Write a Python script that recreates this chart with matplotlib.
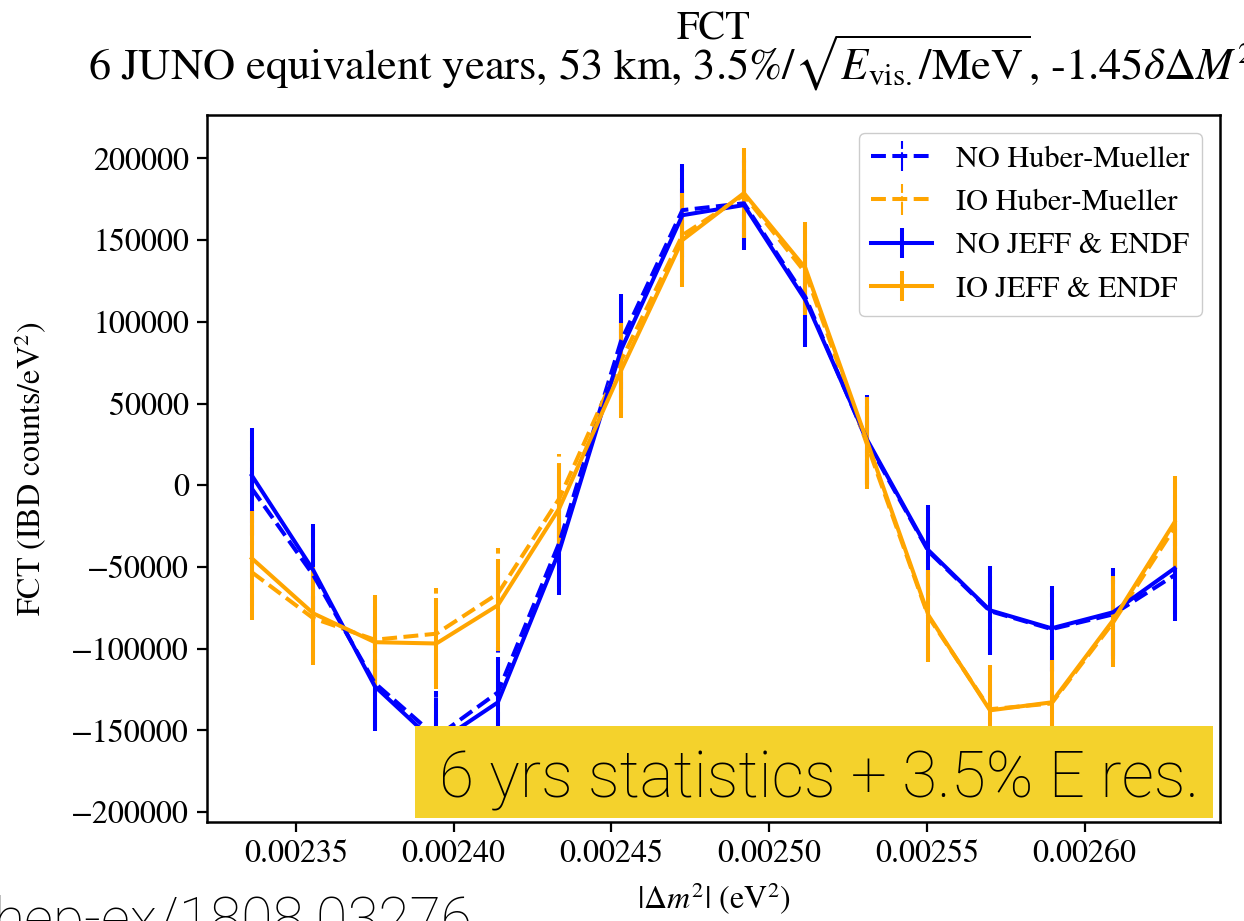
import matplotlib
matplotlib.use("Agg")
import matplotlib.pyplot as plt
from matplotlib.collections import LineCollection
from matplotlib.patches import Rectangle
from matplotlib.ticker import MultipleLocator, FormatStrFormatter

plt.rcParams["font.family"] = ["STIXGeneral", "DejaVu Serif"]
plt.rcParams["mathtext.fontset"] = "stix"

# |dm^2| bin centres (eV^2)
dm2 = [0.0023360, 0.0023555, 0.0023750, 0.0023945, 0.0024140, 0.0024335,
       0.0024530, 0.0024725, 0.0024920, 0.0025115, 0.0025310, 0.0025505,
       0.0025700, 0.0025895, 0.0026090, 0.0026285]

# FCT values (IBD counts / eV^2)
no_hm = [-2000, -55000, -121000, -154000, -126700, -35000, 88000, 168300,
         172500, 115000, 27000, -40500, -77000, -88000, -79000, -55000]
io_hm = [-53200, -81400, -94500, -90800, -66300, -8000, 76000, 153000,
         177500, 130000, 25000, -80500, -137000, -133500, -84000, -26000]
no_jeff = [6000, -52000, -123000, -158000, -132800, -40000, 82600, 165200,
           171400, 113200, 28000, -39800, -76500, -87500, -77700, -50800]
io_jeff = [-44700, -78400, -96000, -96800, -73400, -14000, 70000, 150000,
           178700, 132800, 27000, -79600, -137700, -132800, -82600, -22600]

fct_err = [29000, 28500, 27500, 28000, 28000, 27000, 29000, 28500,
           27500, 28500, 27000, 27500, 27000, 26000, 27000, 28000]

W, H = 1244, 921
fig = plt.figure(figsize=(W / 100, H / 100), dpi=100)
ax = fig.add_axes([207 / W, 1 - 822 / H, (1220 - 207) / W, (822 - 115) / H])

lw = 2.9
series = [
    (no_hm, "blue", "--", "NO Huber-Mueller"),
    (io_hm, "orange", "--", "IO Huber-Mueller"),
    (no_jeff, "blue", "-", "NO JEFF & ENDF"),
    (io_jeff, "orange", "-", "IO JEFF & ENDF"),
]
for vals, col, ls, lab in series:
    eb = ax.errorbar(dm2, vals, yerr=fct_err, color=col, ls=ls, lw=lw,
                     elinewidth=lw, capsize=0, label=lab)
    if ls == "--":
        eb[2][0].set_linestyle("-.")

ax.set_xlim(0.0023218, 0.0026429)
ax.set_ylim(-206000, 226500)
ax.xaxis.set_major_locator(MultipleLocator(0.00005))
ax.xaxis.set_major_formatter(FormatStrFormatter("%.5f"))
ax.yaxis.set_major_locator(MultipleLocator(50000))

fs = 23
ax.tick_params(labelsize=fs, length=7, width=1.6, pad=6)
for sp in ax.spines.values():
    sp.set_linewidth(1.8)

ax.set_xlabel(r"$|\Delta m^2|$ (eV$^2$)", fontsize=fs, labelpad=8)
ax.set_ylabel(r"FCT (IBD counts/eV$^2$)", fontsize=fs, labelpad=16)

leg = ax.legend(loc="upper right", fontsize=fs * 0.95, framealpha=1.0,
                edgecolor="#cccccc", borderaxespad=0.6, handlelength=2.0)
# dash-dot error bars for the Huber-Mueller entries in the legend too
bar_handles = [c for c in leg.findobj(LineCollection)]
for c in bar_handles[:2]:
    c.set_linestyle("-.")

fig.text(713 / W, 1 - 40 / H, "FCT", ha="center", va="baseline", fontsize=29)
fig.text(88 / W, 1 - 80 / H,
         r"6 JUNO equivalent years, 53 km, 3.5%/$\sqrt{E_{\rm vis.}/{\rm MeV}}$, -1.45$\delta\Delta M^2$",
         ha="left", va="baseline", fontsize=32)

# highlighted annotation box over the lower part of the plot
fig.add_artist(Rectangle((415 / W, 1 - 818 / H), (1213 - 415) / W, (818 - 726) / H,
                         transform=fig.transFigure, facecolor="#f4d22c",
                         edgecolor="none", zorder=5))
fig.text(819 / W, 1 - 797 / H, "6 yrs statistics + 3.5% E res.",
         ha="center", va="baseline", fontsize=46, family="Roboto",
         fontweight="light", zorder=6)

fig.text(472 / W, 1 - 938 / H, "hep-ex/1808.03276", ha="right", va="baseline",
         fontsize=41, family="Roboto", fontweight="light")

fig.savefig("out.png", dpi=100)
